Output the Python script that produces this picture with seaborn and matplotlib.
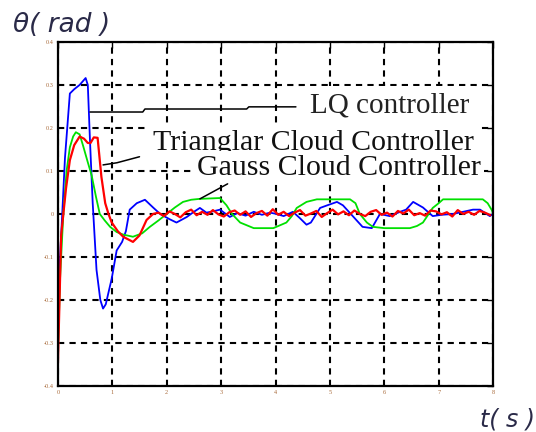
import numpy as np
import pandas as pd
import seaborn as sns
import matplotlib.pyplot as plt

# LQ controller (blue)
lq_t = [0, 0.04, 0.08, 0.13, 0.22, 0.30, 0.40, 0.51, 0.55, 0.59, 0.64, 0.71, 0.78, 0.83, 0.88,
        0.99, 1.08, 1.18, 1.25, 1.32, 1.45, 1.6, 1.75, 1.88, 2.05, 2.18, 2.37, 2.5, 2.61, 2.73,
        2.85, 2.98, 3.16, 3.3, 3.45, 3.6, 3.75, 3.9, 4.02, 4.15, 4.32, 4.45, 4.57, 4.65, 4.82,
        4.95, 5.13, 5.24, 5.42, 5.6, 5.77, 5.92, 6.1, 6.29, 6.4, 6.53, 6.71, 6.89, 7.05, 7.26,
        7.45, 7.63, 7.76, 7.94, 8.0]
lq_y = [-0.19, -0.1, 0.0, 0.13, 0.28, 0.29, 0.30, 0.316, 0.30, 0.17, 0.025, -0.13, -0.2, -0.22, -0.21,
        -0.15, -0.085, -0.065, -0.04, 0.01, 0.025, 0.033, 0.015, 0.0, -0.012, -0.02, -0.007, 0.005, 0.014, 0.003,
        0.006, 0.01, -0.007, 0.002, -0.004, 0.005, -0.002, 0.003, 0.0, -0.005, 0.005, -0.01, -0.025, -0.02, 0.014,
        0.02, 0.028, 0.02, -0.005, -0.03, -0.033, 0.0, -0.005, 0.005, 0.01, 0.028, 0.015, -0.005, -0.002, 0.0,
        0.005, 0.01, 0.01, -0.005, 0.0]

# Gauss cloud controller (green)
gauss_t = [0, 0.04, 0.1, 0.16, 0.22, 0.28, 0.33, 0.4, 0.46, 0.55, 0.62, 0.7, 0.77, 0.86, 0.96,
           1.08, 1.2, 1.38, 1.55, 1.69, 1.85, 2.0, 2.15, 2.3, 2.45, 2.6, 2.98, 3.1, 3.2, 3.35,
           3.6, 3.96, 4.2, 4.3, 4.39, 4.57, 4.76, 5.37, 5.47, 5.55, 5.68, 5.79, 6.0, 6.47, 6.6,
           6.71, 6.89, 7.0, 7.08, 7.81, 7.9, 7.98, 8.0]
gauss_y = [-0.32, -0.15, 0.0, 0.1, 0.155, 0.18, 0.19, 0.185, 0.16, 0.12, 0.09, 0.04, 0.0, -0.015, -0.03,
           -0.042, -0.048, -0.053, -0.045, -0.03, -0.015, 0.0, 0.015, 0.028, 0.033, 0.035, 0.037, 0.02, 0.0, -0.02,
           -0.033, -0.033, -0.02, -0.005, 0.014, 0.028, 0.034, 0.034, 0.025, 0.0, -0.02, -0.03, -0.033, -0.033, -0.028,
           -0.02, 0.014, 0.025, 0.034, 0.034, 0.025, 0.008, 0.0]

# Trianglar cloud controller (red): transient part, then small jitter around zero
tri_t_start = [0, 0.03, 0.06, 0.1, 0.15, 0.22, 0.3, 0.4, 0.48, 0.55, 0.6, 0.66, 0.73, 0.77, 0.8,
               0.87, 0.93, 0.99, 1.1, 1.2, 1.38, 1.5, 1.63, 1.75]
tri_y_start = [-0.35, -0.2, -0.05, 0.0, 0.06, 0.125, 0.16, 0.18, 0.175, 0.165, 0.165, 0.178, 0.177, 0.125, 0.086,
               0.025, 0.0, -0.02, -0.04, -0.053, -0.065, -0.05, -0.014, 0.0]
tri_jitter = [3, -5, 6, 0, -8, 4, 10, -3, 5, -2,
              9, -1, -6, 4, 8, -2, 6, -7, 2, 7,
              -4, 11, -2, 5, -5, 3, 9, -4, 1, 7,
              -7, 2, 10, -1, 6, -3, 8, 0, -5, 5,
              9, -2, 3, -6, 7, 1, 10, -3, 2, -4,
              8, 6, -1, 4, -6, 9, 0, 5, -2, 7,
              3, -3]  # x 0.001

tri_t = tri_t_start + list(np.linspace(1.85, 7.95, len(tri_jitter)))
tri_y = tri_y_start + [v / 1000 for v in tri_jitter]

# leader lines for the labels
lq_lead_t = [0.59, 1.56, 1.60, 3.47, 3.51, 4.375]
lq_lead_y = [0.237, 0.237, 0.244, 0.244, 0.249, 0.249]
tri_lead_t = [0.83, 1.085, 1.5]
tri_lead_y = [0.114, 0.119, 0.133]
gauss_lead_t = [2.61, 3.12]
gauss_lead_y = [0.035, 0.07]

x_ticks = [0, 1, 2, 3, 4, 5, 6, 7, 8]
y_ticks = [-0.4, -0.3, -0.2, -0.1, 0, 0.1, 0.2, 0.3, 0.4]
y_tick_labels = ["-0.4", "-0.3", "-0.2", "-0.1", "0", "0.1", "0.2", "0.3", "0.4"]

sns.set_style("white")
plt.rcParams['font.family'] = ['Liberation Serif', 'DejaVu Serif']

fig = plt.figure(figsize=(5.36, 4.32), dpi=100)
ax = fig.add_axes([0.108, 0.1065, 0.812, 0.7965])

curves = pd.concat([
    pd.DataFrame({"t": lq_t, "theta": lq_y, "ctrl": "LQ"}),
    pd.DataFrame({"t": gauss_t, "theta": gauss_y, "ctrl": "Gauss"}),
    pd.DataFrame({"t": tri_t, "theta": tri_y, "ctrl": "Tri"}),
])
colors = {"LQ": "#0000ff", "Gauss": "#00e000", "Tri": "#ff0000"}
widths = {"LQ": 1.3, "Gauss": 1.3, "Tri": 1.6}
for name in ["LQ", "Gauss", "Tri"]:
    sns.lineplot(data=curves[curves.ctrl == name], x="t", y="theta", color=colors[name],
                 lw=widths[name], estimator=None, sort=False, ax=ax, legend=False)

box = dict(boxstyle="square,pad=0.2", facecolor="white", edgecolor="none")
ax.text(4.63, 0.237, "LQ controller", fontsize=21, color="#222222", va="baseline", bbox=box, zorder=4)
ax.text(1.746, 0.149, "Trianglar Cloud Controller", fontsize=21.5, color="#111111", va="baseline",
        bbox=box, zorder=4)
ax.text(2.555, 0.091, "Gauss Cloud Controller", fontsize=21.5, color="#111111", va="baseline",
        bbox=dict(boxstyle="square,pad=0.12", facecolor="white", edgecolor="none"), zorder=4)

for lt, ly in [(lq_lead_t, lq_lead_y), (tri_lead_t, tri_lead_y), (gauss_lead_t, gauss_lead_y)]:
    ax.plot(lt, ly, color="black", lw=1.1, zorder=5)

ax.set_xlim(0, 8)
ax.set_ylim(-0.4, 0.4)
ax.set_xticks(x_ticks)
ax.set_yticks(y_ticks)
ax.set_yticklabels(y_tick_labels)
ax.set_xlabel("")
ax.set_ylabel("")
ax.tick_params(direction="in", length=4, width=1, colors="black", labelcolor="#a86a3a",
               labelsize=4.5, pad=3, top=True, right=True)
ax.grid(True, color="black", linestyle=(0, (3, 2.5)), linewidth=1.5)
for s in ax.spines.values():
    s.set_color("black")
    s.set_linewidth(1.6)
    s.set_visible(True)
    s.set_zorder(6)

fig.text(13 / 536, 1 - 32 / 432, "θ( rad )", fontsize=19, style="italic",
         color="#2a2a48", family=["DejaVu Sans"])
fig.text(480 / 536, 1 - 427 / 432, "t( s )", fontsize=17, style="italic",
         color="#2a2a48", family=["DejaVu Sans"])

fig.savefig("out.png", dpi=100)
